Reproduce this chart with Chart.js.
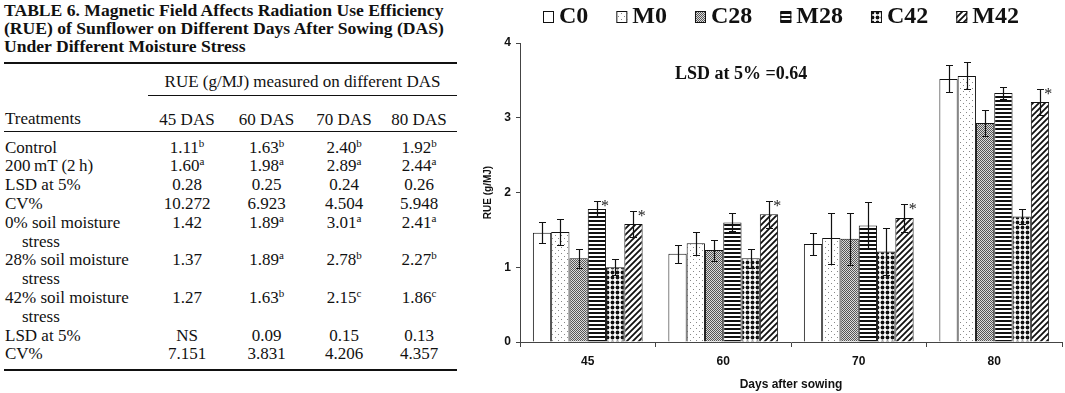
<!DOCTYPE html>
<html>
<head>
<meta charset="utf-8">
<script src="https://cdn.jsdelivr.net/npm/chart.js@4.4.1/dist/chart.umd.min.js"></script>
<style>
  html, body { margin: 0; padding: 0; background: #fff; }
  body { width: 1065px; height: 393px; position: relative; overflow: hidden;
         font-family: "Liberation Serif", "Times New Roman", serif; color: #111; }
  #tbl { position: absolute; left: 4px; top: 0; width: 453px; }
  .ttl { position: absolute; left: 0; top: 1px; white-space: nowrap;
         font-weight: bold; font-size: 17.6px; line-height: 18px; }
  table { position: absolute; left: 0; top: 62px; width: 453px; border-collapse: collapse;
          font-size: 17px; line-height: 18.8px; border-top: 2px solid #111; border-bottom: 2px solid #111; }
  td { padding: 0; text-align: center; vertical-align: top; white-space: nowrap; }
  td.l { text-align: left; padding-left: 1px; }
  tr.h1 td { padding-top: 9px; padding-bottom: 3px; }
  tr.h1 td.span { border-bottom: 1px solid #111; }
  tr.h2 td { padding-top: 15px; padding-bottom: 1px; border-bottom: 1px solid #111; }
  tbody tr:first-child td { padding-top: 7px; }
  tbody tr:last-child td { padding-bottom: 5px; }
  .ind { padding-left: 17px; }
  sup { font-size: 11px; line-height: 0; vertical-align: 6px; }
  #wrap { position: absolute; left: 470px; top: 0; width: 595px; height: 393px; }
</style>
</head>
<body>
<div id="tbl">
  <div class="ttl">TABLE 6. Magnetic Field Affects Radiation Use Efficiency<br>(RUE) of Sunflower on Different Days After Sowing (DAS)<br>Under Different Moisture Stress</div>
  <table>
    <colgroup><col style="width:144px"><col style="width:78px"><col style="width:81px"><col style="width:74px"><col style="width:76px"></colgroup>
    <thead>
      <tr class="h1"><td></td><td colspan="4" class="span">RUE (g/MJ) measured on different DAS</td></tr>
      <tr class="h2"><td class="l">Treatments</td><td>45 DAS</td><td>60 DAS</td><td>70 DAS</td><td>80 DAS</td></tr>
    </thead>
    <tbody>
      <tr><td class="l">Control</td><td>1.11<sup>b</sup></td><td>1.63<sup>b</sup></td><td>2.40<sup>b</sup></td><td>1.92<sup>b</sup></td></tr>
      <tr><td class="l">200&#8201;mT (2&#8201;h)</td><td>1.60<sup>a</sup></td><td>1.98<sup>a</sup></td><td>2.89<sup>a</sup></td><td>2.44<sup>a</sup></td></tr>
      <tr><td class="l">LSD at 5%</td><td>0.28</td><td>0.25</td><td>0.24</td><td>0.26</td></tr>
      <tr><td class="l">CV%</td><td>10.272</td><td>6.923</td><td>4.504</td><td>5.948</td></tr>
      <tr><td class="l">0% soil moisture<br><span class="ind">stress</span></td><td>1.42</td><td>1.89<sup>a</sup></td><td>3.01<sup>a</sup></td><td>2.41<sup>a</sup></td></tr>
      <tr><td class="l">28% soil moisture<br><span class="ind">stress</span></td><td>1.37</td><td>1.89<sup>a</sup></td><td>2.78<sup>b</sup></td><td>2.27<sup>b</sup></td></tr>
      <tr><td class="l">42% soil moisture<br><span class="ind">stress</span></td><td>1.27</td><td>1.63<sup>b</sup></td><td>2.15<sup>c</sup></td><td>1.86<sup>c</sup></td></tr>
      <tr><td class="l">LSD at 5%</td><td>NS</td><td>0.09</td><td>0.15</td><td>0.13</td></tr>
      <tr><td class="l">CV%</td><td>7.151</td><td>3.831</td><td>4.206</td><td>4.357</td></tr>
    </tbody>
  </table>
</div>
<div id="wrap"><canvas id="rueChart" width="595" height="393"></canvas></div>
<script>
// days after sowing
const days = ['45', '60', '70', '80'];

// mean RUE (g/MJ) per treatment
const c0 = [1.46, 1.18, 1.31, 3.52];
const m0 = [1.47, 1.32, 1.39, 3.56];
const c28 = [1.12, 1.23, 1.38, 2.93];
const m28 = [1.78, 1.60, 1.56, 3.33];
const c42 = [1.00, 1.12, 1.21, 1.68];
const m42 = [1.58, 1.71, 1.66, 3.21];

// error bar half lengths
const c0Err = [0.14, 0.12, 0.15, 0.18];
const m0Err = [0.17, 0.15, 0.34, 0.18];
const c28Err = [0.13, 0.14, 0.35, 0.17];
const m28Err = [0.11, 0.12, 0.31, 0.08];
const c42Err = [0.11, 0.13, 0.31, 0.10];
const m42Err = [0.17, 0.18, 0.19, 0.17];

// significance marks (*)
const m28Star = [true, false, false, false];
const m42Star = [true, true, true, true];

const yTicks = [0, 1, 2, 3, 4];
const lsdNote = 'LSD at 5% =0.64';

const axisFont = '"Liberation Sans Narrow", "Liberation Sans", Arial, sans-serif';
const serifFont = '"Liberation Serif", "Times New Roman", serif';

// fill patterns like the printed figure
function makePattern(kind) {
    const c = document.createElement('canvas');
    const x = c.getContext('2d');
    let s = 6;
    if (kind === 'dither') s = 2;
    if (kind === 'hlines') s = 4;
    if (kind === 'diamonds') s = 5;
    c.width = s; c.height = s;
    x.fillStyle = '#fff';
    x.fillRect(0, 0, s, s);
    if (kind === 'dots') {
        x.fillStyle = '#888';
        x.fillRect(1, 1, 1, 1);
        x.fillRect(4, 4, 1, 1);
    } else if (kind === 'dither') {
        x.fillStyle = '#555';
        x.fillRect(0, 0, 1, 1);
        x.fillRect(1, 1, 1, 1);
        x.fillStyle = '#dcdcdc';
        x.fillRect(1, 0, 1, 1);
        x.fillRect(0, 1, 1, 1);
    } else if (kind === 'hlines') {
        x.fillStyle = '#111';
        x.fillRect(0, 0, s, 2);
    } else if (kind === 'diamonds') {
        x.fillStyle = '#111';
        x.beginPath(); x.arc(2.5, 2.5, 1.9, 0, Math.PI * 2); x.fill();
    } else if (kind === 'diag') {
        x.strokeStyle = '#111';
        x.lineWidth = 1.8;
        x.beginPath();
        x.moveTo(-1, 7); x.lineTo(7, -1);
        x.moveTo(-4, 4); x.lineTo(4, -4);
        x.moveTo(2, 10); x.lineTo(10, 2);
        x.stroke();
    } else {
        return '#fff';
    }
    return x.createPattern(c, 'repeat');
}

function series(label, data, errors, kind, stars) {
    return {
        label: label,
        data: data,
        errors: errors,
        stars: stars || null,
        backgroundColor: makePattern(kind),
        borderColor: '#111',
        borderWidth: 1
    };
}

const errorBars = {
    id: 'errorBars',
    afterDatasetsDraw(chart) {
        const ctx = chart.ctx;
        const yScale = chart.scales.y;
        ctx.save();
        ctx.strokeStyle = '#111';
        ctx.lineWidth = 1.2;
        chart.data.datasets.forEach((ds, i) => {
            chart.getDatasetMeta(i).data.forEach((bar, j) => {
                const v = ds.data[j], e = ds.errors[j];
                const yt = Math.round(yScale.getPixelForValue(v + e)) + 0.5;
                const yb = Math.round(yScale.getPixelForValue(v - e)) + 0.5;
                const x = Math.round(bar.x) + 0.5;
                ctx.beginPath();
                ctx.moveTo(x, yt); ctx.lineTo(x, yb);
                ctx.moveTo(x - 3.5, yt); ctx.lineTo(x + 3.5, yt);
                ctx.moveTo(x - 3.5, yb); ctx.lineTo(x + 3.5, yb);
                ctx.stroke();
                if (ds.stars && ds.stars[j]) {
                    ctx.fillStyle = '#222';
                    ctx.font = '16px ' + serifFont;
                    ctx.textAlign = 'center';
                    ctx.textBaseline = 'middle';
                    ctx.fillText('*', bar.x + bar.width / 2 - 1, yt + 5);
                }
            });
        });
        ctx.restore();
    }
};

const topLegend = {
    id: 'topLegend',
    afterDraw(chart) {
        const ctx = chart.ctx;
        ctx.save();
        ctx.font = 'bold 24px ' + serifFont;
        ctx.textBaseline = 'alphabetic';
        ctx.textAlign = 'left';
        let x = 73;
        chart.data.datasets.forEach(ds => {
            ctx.fillStyle = ds.backgroundColor;
            ctx.fillRect(x, 11, 11, 12);
            ctx.strokeStyle = '#111';
            ctx.lineWidth = 1;
            ctx.strokeRect(x + 0.5, 11.5, 10, 11);
            ctx.fillStyle = '#111';
            ctx.fillText(ds.label, x + 16, 23);
            x += 16 + ctx.measureText(ds.label).width + 28;
        });
        // LSD note
        ctx.font = 'bold 18px ' + serifFont;
        ctx.fillText(lsdNote, 205, 79);
        ctx.restore();
    }
};

const ctx = document.getElementById('rueChart').getContext('2d');

const data = {
    labels: days,
    datasets: [
        series('C0', c0, c0Err, 'plain'),
        series('M0', m0, m0Err, 'dots'),
        series('C28', c28, c28Err, 'dither'),
        series('M28', m28, m28Err, 'hlines', m28Star),
        series('C42', c42, c42Err, 'diamonds'),
        series('M42', m42, m42Err, 'diag', m42Star)
    ]
};

const config = {
    type: 'bar',
    data: data,
    options: {
        responsive: false,
        animation: false,
        layout: { padding: { top: 43, right: 3, left: 0, bottom: 0 } },
        datasets: { bar: { categoryPercentage: 0.81, barPercentage: 1 } },
        plugins: {
            legend: { display: false },
            tooltip: { enabled: false }
        },
        scales: {
            x: {
                grid: { offset: true, drawOnChartArea: false, drawTicks: true, tickLength: 5, color: '#444' },
                border: { color: '#444', width: 1 },
                ticks: { color: '#111', padding: 7, font: { family: axisFont, weight: 'bold', size: 12 } },
                title: {
                    display: true,
                    text: 'Days after sowing',
                    color: '#111',
                    font: { family: axisFont, weight: 'bold', size: 12 },
                    padding: { top: 0, bottom: 1 }
                },
                afterFit(scale) { scale.height = 51; }
            },
            y: {
                min: 0,
                max: 4,
                afterBuildTicks(scale) { scale.ticks = yTicks.map(v => ({ value: v })); },
                grid: { drawOnChartArea: false, drawTicks: true, tickLength: 4, color: '#444' },
                border: { color: '#444', width: 1 },
                ticks: { color: '#111', padding: 5, font: { family: axisFont, weight: 'bold', size: 12 } },
                title: {
                    display: true,
                    text: 'RUE (g/MJ)',
                    color: '#111',
                    font: { family: axisFont, weight: 'bold', size: 10 },
                    padding: { top: 12, bottom: 0 }
                },
                afterFit(scale) { scale.width = 50; }
            }
        }
    },
    plugins: [errorBars, topLegend]
};

new Chart(ctx, config);
</script>
</body>
</html>
